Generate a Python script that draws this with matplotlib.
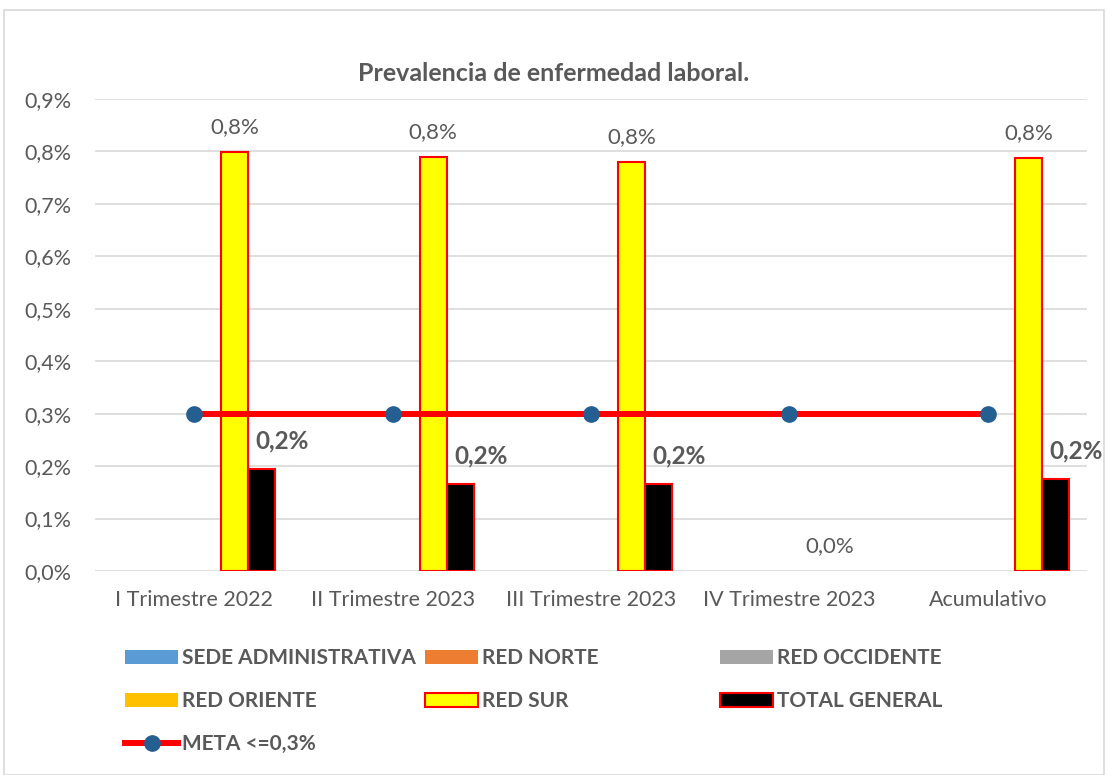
import numpy as np
import matplotlib

matplotlib.use("Agg")
import matplotlib.pyplot as plt
from matplotlib.patches import Patch, Rectangle
from matplotlib.lines import Line2D

plt.rcParams["font.family"] = ["Lato", "DejaVu Sans"]

categories = ["I Trimestre 2022", "II Trimestre 2023", "III Trimestre 2023",
              "IV Trimestre 2023", "Acumulativo"]
sede_admin = [0, 0, 0, 0, 0]
red_norte = [0, 0, 0, 0, 0]
red_occidente = [0, 0, 0, 0, 0]
red_oriente = [0, 0, 0, 0, 0]
red_sur = [0.798, 0.790, 0.779, 0.0, 0.788]
total_general = [0.195, 0.166, 0.166, np.nan, 0.176]
meta = [0.3, 0.3, 0.3, 0.3, 0.3]

GRAY = "#595959"

fig = plt.figure(figsize=(11.07, 7.75), dpi=100)
ax = fig.add_axes([0.0858, 0.2632, 0.8962, 0.6091])

x = np.arange(len(categories))
w = 0.136

series = [
    (sede_admin, "#5B9BD5", "none"),
    (red_norte, "#ED7D31", "none"),
    (red_occidente, "#A5A5A5", "none"),
    (red_oriente, "#FFC000", "none"),
    (red_sur, "#FFFF00", "#FF0000"),
    (total_general, "#000000", "#FF0000"),
]
for i, (vals, fc, ec) in enumerate(series):
    b = ax.bar(x + (i - 2.5) * w, vals, width=w, color=fc,
               edgecolor=ec, linewidth=1.5 if ec != "none" else 0, zorder=2)
    # zero-height bars show no outline
    for p in b.patches:
        if p.get_height() == 0:
            p.set_linewidth(0)

# labels for RED SUR
for xi, v in zip(x, red_sur):
    ax.annotate(f"{v:.1f}%".replace(".", ","), (xi + 1.5 * w, v),
                xytext=(0, 18), textcoords="offset points",
                ha="center", va="center", fontsize=16, color=GRAY)

# labels for TOTAL GENERAL
for xi, v in zip(x, total_general):
    if np.isnan(v):
        continue
    ax.annotate(f"{v:.1f}%".replace(".", ","), (xi + 2.5 * w, v),
                xytext=(15, 20), textcoords="offset points",
                ha="center", va="center", fontsize=17.5, fontweight="bold",
                color=GRAY)

ax.plot(x, meta, color="#FF0000", linewidth=4.3, marker="o",
        markersize=11, markerfacecolor="#255E91", markeredgecolor="#255E91",
        zorder=3)

ax.set_xlim(-0.5, len(categories) - 0.5)
ax.set_ylim(0, 0.9)
ax.set_yticks(np.arange(0, 0.91, 0.1))
ax.set_yticklabels([f"{t:.1f}%".replace(".", ",") for t in np.arange(0, 0.91, 0.1)])
ax.set_xticks(x)
ax.set_xticklabels(categories)
ax.tick_params(axis="both", length=0, labelsize=15.5, colors=GRAY)
ax.tick_params(axis="x", pad=14)
ax.tick_params(axis="y", pad=17)
ax.grid(axis="y", color="#D9D9D9", linewidth=1.2, zorder=0)
ax.set_axisbelow(True)
for s in ax.spines.values():
    s.set_visible(False)

fig.text(0.5, 0.905, "Prevalencia de enfermedad laboral.", ha="center",
         va="center", fontsize=18, fontweight="bold", color=GRAY)

# chart border
fig.patches.append(Rectangle((4 / 1107, 0), 1100 / 1107, 765 / 775,
                             transform=fig.transFigure, fill=False,
                             edgecolor="#D9D9D9", linewidth=1.2))

# legend, built as three columns
h_sede = Patch(facecolor="#5B9BD5", edgecolor="none")
h_norte = Patch(facecolor="#ED7D31", edgecolor="none")
h_occ = Patch(facecolor="#A5A5A5", edgecolor="none")
h_ori = Patch(facecolor="#FFC000", edgecolor="none")
h_sur = Patch(facecolor="#FFFF00", edgecolor="#FF0000", linewidth=1.5)
h_tot = Patch(facecolor="#000000", edgecolor="#FF0000", linewidth=1.5)
h_meta = Line2D([], [], color="#FF0000", linewidth=4.3, marker="o",
                markersize=11, markerfacecolor="#255E91",
                markeredgecolor="#255E91")

cols = [
    ([h_sede, h_ori, h_meta], ["SEDE ADMINISTRATIVA", "RED ORIENTE", "META <=0,3%"], 125),
    ([h_norte, h_sur], ["RED NORTE", "RED SUR"], 425),
    ([h_occ, h_tot], ["RED OCCIDENTE", "TOTAL GENERAL"], 720),
]
for handles, labels, xpx in cols:
    leg = fig.legend(handles, labels, loc="upper left",
                     bbox_to_anchor=(xpx / 1107, 1 - 648 / 775),
                     frameon=False, handlelength=2.55, handleheight=0.65,
                     handletextpad=0.2, labelspacing=1.1, borderpad=0,
                     borderaxespad=0,
                     prop={"size": 15, "weight": "bold"})
    for t in leg.get_texts():
        t.set_color(GRAY)

fig.savefig("out.png", dpi=100)
